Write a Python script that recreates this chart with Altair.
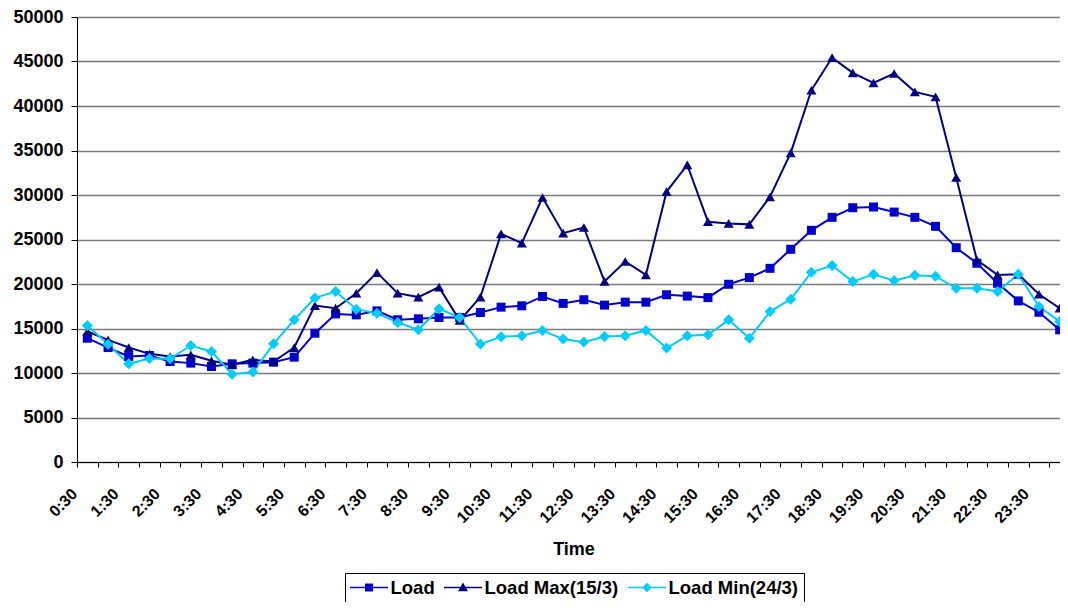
import altair as alt
import pandas as pd

times = ["0:30", "1:00", "1:30", "2:00", "2:30", "3:00", "3:30", "4:00", "4:30", "5:00",
         "5:30", "6:00", "6:30", "7:00", "7:30", "8:00", "8:30", "9:00", "9:30", "10:00",
         "10:30", "11:00", "11:30", "12:00", "12:30", "13:00", "13:30", "14:00", "14:30", "15:00",
         "15:30", "16:00", "16:30", "17:00", "17:30", "18:00", "18:30", "19:00", "19:30", "20:00",
         "20:30", "21:00", "21:30", "22:00", "22:30", "23:00", "23:30", "24:00"]

load = [13910, 12860, 11850, 11970, 11290, 11110, 10730, 11030, 11110, 11220,
        11780, 14470, 16640, 16530, 16980, 15980, 16090, 16240, 16240, 16800,
        17400, 17550, 18600, 17820, 18230, 17630, 17960, 17960, 18790, 18640,
        18470, 19970, 20720, 21760, 23900, 26030, 27490, 28570, 28650, 28080,
        27490, 26480, 24080, 22330, 20080, 18100, 16830, 14850]

load_max = [14660, 13720, 12860, 12150, 11850, 12040, 11370, 10920, 11480, 11290,
            12860, 17580, 17280, 18960, 21280, 18970, 18530, 19650, 15900, 18530,
            25640, 24590, 29720, 25710, 26350, 20290, 22530, 21030, 30390, 33380,
            27000, 26810, 26700, 29800, 34740, 41770, 45440, 43720, 42600, 43650,
            41590, 41030, 31970, 22700, 21020, 21090, 18850, 17280]

load_min = [15330, 13240, 11030, 11630, 11590, 13090, 12420, 9870, 10100, 13280,
            15970, 18440, 19150, 17170, 16720, 15680, 14860, 17220, 16240, 13250,
            14070, 14180, 14780, 13810, 13470, 14110, 14180, 14780, 12800, 14180,
            14290, 15970, 13910, 16900, 18290, 21320, 22070, 20270, 21090, 20380,
            20980, 20870, 19520, 19520, 19150, 21090, 17470, 15780]

series_names = ["Load", "Load Max(15/3)", "Load Min(24/3)"]
series_colors = ["#0000CC", "#000080", "#00CCFF"]
series_shapes = ["square", "triangle-up", "diamond"]
series_sizes = [81, 121, 110]
y_ticks = [0, 5000, 10000, 15000, 20000, 25000, 30000, 35000, 40000, 45000, 50000]

# legend symbols: a short line with the series marker in its middle
legend_paths = [
    "M-2,-0.08H2V0.08H-2ZM-0.42,-0.42H0.42V0.42H-0.42Z",
    "M-2,-0.08H2V0.08H-2ZM0,-0.52L0.52,0.4H-0.52Z",
    "M-2,-0.08H2V0.08H-2ZM0,-0.5L0.5,0L0,0.5L-0.5,0Z",
]

rows = []
for name, vals in zip(series_names, [load, load_max, load_min]):
    for t, v in zip(times, vals):
        rows.append({"Time": t, "Series": name, "Value": v})
df = pd.DataFrame(rows)

FONT = "Liberation Sans"
W = 993
H = 445
STEP = W / len(times)

x_enc = alt.X("Time:O", sort=times,
              scale=alt.Scale(type="point", padding=0.5),
              axis=alt.Axis(title="Time", labelAngle=-45, labelAlign="right",
                            labelBaseline="middle", labelPadding=24,
                            tickOffset=-STEP / 2, labelOffset=STEP / 2 - 13,
                            labelExpr="slice(datum.value, -2) == '30' ? datum.value : ''",
                            tickSize=5, tickColor="#000000",
                            domainColor="#000000", labelFontSize=16, labelFontWeight="bold",
                            titleFontSize=18, titleFontWeight="bold", titlePadding=15,
                            labelFont=FONT, titleFont=FONT, grid=False, labelOverlap=False,
                            labelColor="#000000", titleColor="#000000"))

y_enc = alt.Y("Value:Q", scale=alt.Scale(domain=[0, 50000], nice=False),
              axis=alt.Axis(title=None, values=y_ticks, format="d", tickSize=6,
                            tickColor="#000000", domainColor="#000000",
                            labelFontSize=18, labelFontWeight="bold", labelFont=FONT,
                            labelPadding=8, labelColor="#000000",
                            grid=True, gridColor="#7a7a7a", gridWidth=1.3))

legend = alt.Legend(title=None, orient="none", legendX=268, legendY=556,
                    direction="horizontal", symbolSize=361, symbolOffset=9.5,
                    symbolStrokeWidth=0, symbolOpacity=1,
                    labelFontSize=18.5, labelFontWeight="bold", labelFont=FONT,
                    labelColor="#000000", labelOffset=12, columnPadding=9,
                    padding=5, strokeColor="#000000", fillColor="#ffffff")

lines = alt.Chart(df).mark_line(strokeWidth=2).encode(
    x=x_enc, y=y_enc,
    color=alt.Color("Series:N", scale=alt.Scale(domain=series_names, range=series_colors),
                    legend=None),
)

points = alt.Chart(df).mark_point(filled=True, opacity=1).encode(
    x=x_enc, y=y_enc,
    color=alt.Color("Series:N", scale=alt.Scale(domain=series_names, range=series_colors),
                    legend=None),
    shape=alt.Shape("Series:N", scale=alt.Scale(domain=series_names, range=series_shapes),
                    legend=None),
    size=alt.Size("Series:N", scale=alt.Scale(domain=series_names, range=series_sizes),
                  legend=None),
)

# legend-only layer: no rows reach it, its scales carry the legend entries
legend_layer = alt.Chart(df).transform_filter("datum.Value < 0").mark_point(
    filled=True, opacity=1
).encode(
    x=x_enc, y=y_enc,
    color=alt.Color("Series:N", scale=alt.Scale(domain=series_names, range=series_colors),
                    legend=legend),
    shape=alt.Shape("Series:N", scale=alt.Scale(domain=series_names, range=legend_paths),
                    legend=legend),
)

chart = alt.layer(lines, points, legend_layer).resolve_scale(
    color="independent", shape="independent", size="independent"
).properties(
    width=W, height=H,
    autosize=alt.AutoSizeParams(type="none"),
    padding={"left": 69, "top": 9, "right": -10, "bottom": 140},
    background="#ffffff",
).configure_view(stroke=None)

chart.save("out.html", embed_options={"renderer": "svg", "actions": False})
